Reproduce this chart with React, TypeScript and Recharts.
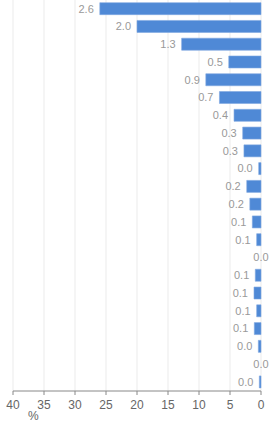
import React from 'react'
import { BarChart, Bar, XAxis, YAxis, CartesianGrid, LabelList, Rectangle } from 'recharts'

const categories = [
  'A1', 'A2', 'A3', 'A4', 'A5', 'A6', 'A7', 'A8', 'A9', 'A10', 'A11',
  'A12', 'A13', 'A14', 'A15', 'A16', 'A17', 'A18', 'A19', 'A20', 'A21', 'A22',
]
const values = [26.0, 20.0, 12.8, 5.2, 8.9, 6.7, 4.35, 2.95, 2.75, 0.37, 2.3, 1.8, 1.4, 0.7, 0, 0.92, 1.13, 0.7, 1.08, 0.43, 0, 0.27]
const labels = ['2.6', '2.0', '1.3', '0.5', '0.9', '0.7', '0.4', '0.3', '0.3', '0.0', '0.2', '0.2', '0.1', '0.1', '0.0', '0.1', '0.1', '0.1', '0.1', '0.0', '0.0', '0.0']
const xTicks = [0, 5, 10, 15, 20, 25, 30, 35, 40]

const data = categories.map((name, i) => ({ name, value: values[i], label: labels[i] }))

function BarLabel(props: any) {
  const { x, y, width, height, value } = props
  const left = Math.min(x, x + width)
  const right = Math.max(x, x + width)
  const zero = Math.abs(width) < 0.5
  return (
    <text
      x={zero ? right : left - 6}
      y={y + height / 2}
      dy="0.35em"
      textAnchor={zero ? 'middle' : 'end'}
      fontSize={11}
      fill="#999"
    >
      {value}
    </text>
  )
}

function BarShape(props: any) {
  if (Math.abs(props.width) < 0.5) return <g />
  return <Rectangle {...props} />
}

export default function App() {
  return (
    <div style={{ position: 'relative', width: 272, height: 423, fontFamily: '"Liberation Sans", Arial, sans-serif' }}>
      <style>{'body{margin:0}'}</style>
      <BarChart
        width={272}
        height={423}
        data={data}
        layout="vertical"
        margin={{ top: 0, right: 11, bottom: 0, left: 13 }}
        barCategoryGap="15%"
      >
        <CartesianGrid horizontal={false} stroke="#ebebeb" />
        <XAxis
          type="number"
          domain={[0, 40]}
          ticks={xTicks}
          reversed
          height={32}
          tickSize={4}
          tickMargin={5}
          stroke="#888"
          tick={{ fontSize: 12, fill: '#666' }}
          interval={0}
        />
        <YAxis type="category" dataKey="name" hide />
        <Bar
          dataKey="value"
          fill="#4f89d6"
          stroke="#7fa8e0"
          strokeWidth={0.6}
          minPointSize={0.01}
          shape={BarShape}
          isAnimationActive={false}
        >
          <LabelList dataKey="label" content={BarLabel} />
        </Bar>
      </BarChart>
      <div style={{ position: 'absolute', left: 28, top: 409, fontSize: 12, color: '#666' }}>%</div>
    </div>
  )
}
